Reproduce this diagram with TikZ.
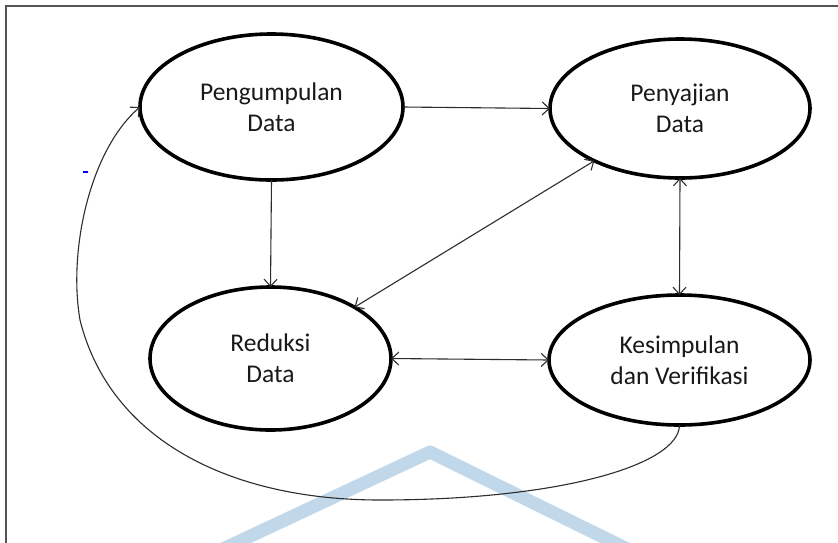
\documentclass[tikz,border=0pt]{standalone}
\usepackage{fontspec}
\setmainfont{Carlito}
\usetikzlibrary{arrows.meta,shapes.geometric}
\definecolor{wm}{RGB}{192,216,234}
\definecolor{conn}{RGB}{45,45,45}
\definecolor{frame}{RGB}{85,85,85}
\tikzset{
  stage/.style={ellipse,draw=black,line width=3.6pt,inner sep=0pt,outer sep=0pt,
    align=center,font=\fontsize{25.5}{31}\selectfont,text=black!90},
  link/.style={draw=conn,line width=1.1pt,-{Straight Barb[length=7pt,width=13pt,line width=1.1pt]}},
  blink/.style={link,{Straight Barb[length=7pt,width=13pt,line width=1.1pt]}-{Straight Barb[length=7pt,width=13pt,line width=1.1pt]}}
}
\begin{document}
\begin{tikzpicture}[x=1pt,y=-1pt]
\clip (0,0) rectangle (838,542);
\fill[white] (0,0) rectangle (838,542);
% frame
\draw[frame,line width=1.6pt] (6,560) -- (6,6) -- (850,6);
% watermark
\draw[wm,line width=13pt,line join=round] (178,570) -- (430,452) -- (670,570);
% blue dash
\draw[blue,line width=2pt] (83,172) -- (88,172);
% nodes
\node[stage,minimum width=263pt,minimum height=146pt] (peng) at (271.5,107) {Pengumpulan\\Data};
\node[stage,minimum width=260pt,minimum height=139pt] (peny) at (680,108.5) {Penyajian\\Data};
\node[stage,minimum width=241pt,minimum height=143pt] (red) at (270.5,358.5) {Reduksi\\Data};
\node[stage,minimum width=261pt,minimum height=130pt] (kes) at (679.5,360) {Kesimpulan\\dan Verifikasi};
% connectors
\draw[link] (peng.east) -- (peny.west);
\draw[link] (peng.south) -- (red.north);
\draw[blink] (red) -- (peny);
\draw[blink] (peny.south) -- (kes.north);
\draw[blink] (red.east) -- (kes.west);
\coordinate (c1) at (380,500);
\coordinate (c2) at (80,320);
\draw[link] (kes.south) .. controls (679,465) and (560,500) .. (c1)
  .. controls (230,500) and (110,440) .. (c2)
  .. controls (68,250) and (90,150) .. (peng.west);
\end{tikzpicture}
\end{document}
